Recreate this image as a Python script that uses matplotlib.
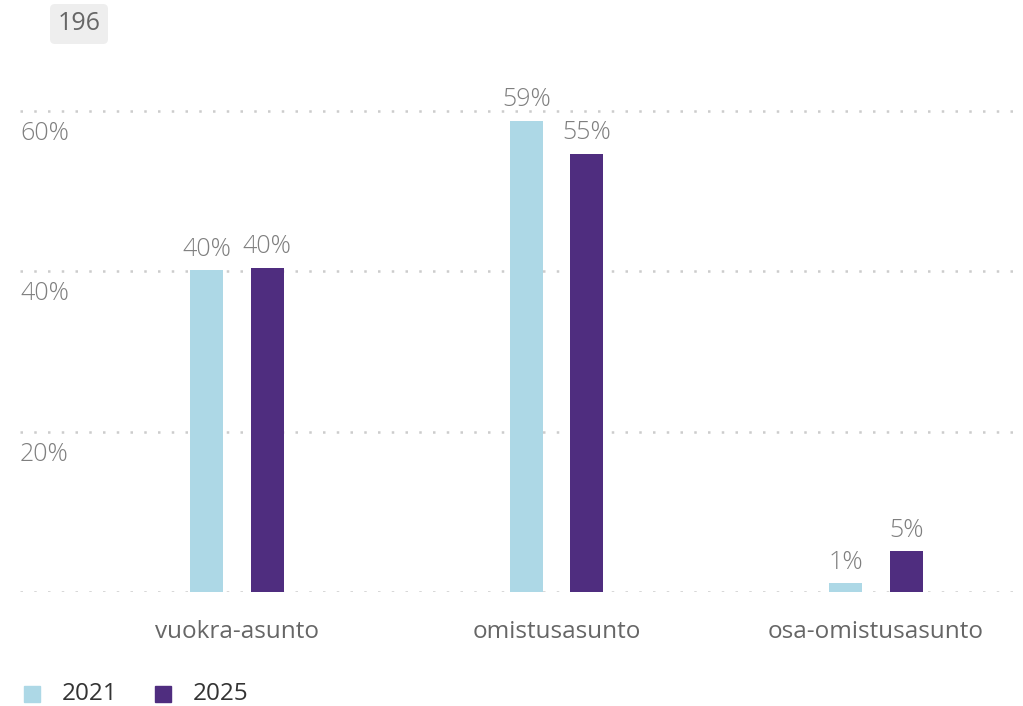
import matplotlib.pyplot as plt
import numpy as np

plt.rcParams['font.family'] = ['Open Sans', 'DejaVu Sans']

categories = ['vuokra-asunto', 'omistusasunto', 'osa-omistusasunto']
years = ['2021', '2025']
values_2021 = [40.1, 58.7, 1.1]
values_2025 = [40.4, 54.6, 5.1]
labels_2021 = ['40%', '59%', '1%']
labels_2025 = ['40%', '55%', '5%']
yticks = [20, 40, 60]
total_n = '196'

colors = ['#add8e6', '#4f2d7f']

W, H = 1023, 706
PX = 8.025  # pixels per percent
fig = plt.figure(figsize=(W / 100, H / 100), dpi=100)
# axes: x from 20 to 1023 px, y from 592 (0%) to 100 px
ax = fig.add_axes([20 / W, (H - 592) / H, (W - 20) / W, (592 - 100) / H])
ax.set_ylim(0, (592 - 100) / PX)
ax.set_xlim(-0.679, 2.46)

x = np.arange(len(categories))
bw = 0.103
off = 0.0947
for i, (vals, labs) in enumerate([(values_2021, labels_2021), (values_2025, labels_2025)]):
    pos = x + (-off if i == 0 else off)
    ax.bar(pos, vals, width=bw, color=colors[i], zorder=3)
    for p, v, l in zip(pos, vals, labs):
        ax.text(p, v + 21 / PX, l, ha='center', va='center', fontsize=18, fontweight='light',
                color='#7f7f7f', zorder=4)

for yv in [0] + yticks:
    ax.axhline(yv, color='#cccccc', linestyle=(0, (1, 4.5)), linewidth=1.8, zorder=1)
for yv in yticks:
    ax.text(-0.679, yv - 23 / PX, f'{yv}%', ha='left', va='center', fontsize=18, fontweight='light',
            color='#7f7f7f')

for xi, c in zip(x, categories):
    ax.text(xi, -40 / PX, c, ha='center', va='center', fontsize=17.5, color='#666666')

for s in ax.spines.values():
    s.set_visible(False)
ax.set_xticks([])
ax.set_yticks([])

# legend
for i, (yr, col) in enumerate(zip(years, colors)):
    lx = 24 + i * 131
    fig.patches.append(plt.Rectangle((lx / W, (H - 702) / H), 16 / W, 16 / H, transform=fig.transFigure,
                                     color=col, figure=fig))
    fig.text((lx + 38) / W, (H - 694) / H, yr, ha='left', va='center', fontsize=17.5, color='#333333')

# n box
fig.text(79 / W, (H - 24) / H, total_n, ha='center', va='center', fontsize=18, color='#666666',
         bbox=dict(boxstyle='round,pad=0.3,rounding_size=0.2', facecolor='#eeeeee', edgecolor='none'))

fig.savefig('out.png', dpi=100)
